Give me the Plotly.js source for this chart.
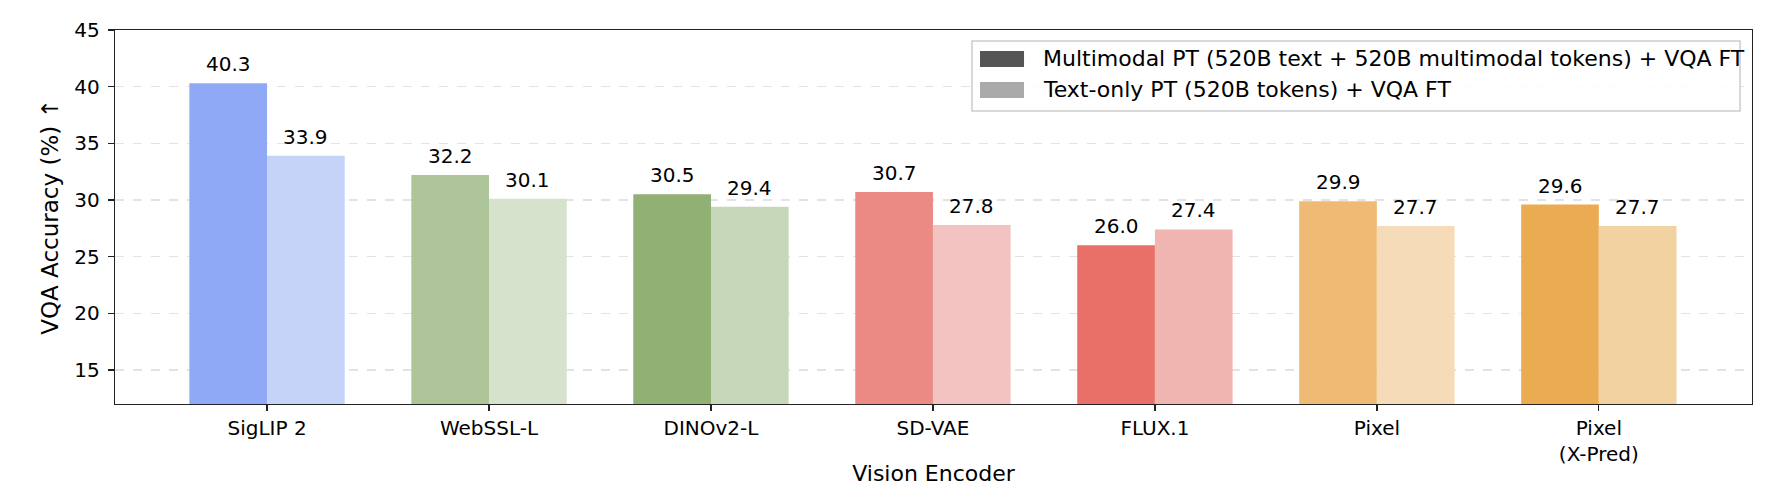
<!DOCTYPE html>
<html>
<head>
<meta charset="utf-8">
<script src="https://cdn.plot.ly/plotly-3.0.1.min.js"></script>
<style>
  html, body { margin: 0; padding: 0; background: #fff; }
  #chart { width: 1788px; height: 504px; }
</style>
</head>
<body>
<div id="chart"></div>
<script>
"use strict";

var encoders = ['SigLIP 2', 'WebSSL-L', 'DINOv2-L', 'SD-VAE', 'FLUX.1', 'Pixel', 'Pixel<br>(X-Pred)'];
var multimodalAcc = [40.3, 32.2, 30.5, 30.7, 26.0, 29.9, 29.6];
var textOnlyAcc = [33.9, 30.1, 29.4, 27.8, 27.4, 27.7, 27.7];
var darkColors = ['#8fa9f6', '#aec59a', '#90b074', '#eb8985', '#e87068', '#efbb74', '#eaab53'];
var lightColors = ['#c6d3f9', '#d6e2cb', '#c7d8ba', '#f3c3c1', '#f0b4b1', '#f5dbb7', '#f3d2a2'];
var legendNames = [
    'Multimodal PT (520B text + 520B multimodal tokens) + VQA FT',
    'Text-only PT (520B tokens) + VQA FT'
];
var legendColors = ['#555555', '#aaaaaa'];
var yTicks = [15, 20, 25, 30, 35, 40, 45];

var FONT = 'DejaVu Sans, sans-serif';
var BAR_W = 0.35;

function barTrace(values, colors, offset) {
    return {
        type: 'bar',
        x: encoders,
        y: values,
        width: BAR_W,
        offset: offset,
        marker: { color: colors, line: { width: 0 } },
        showlegend: false,
        hoverinfo: 'skip'
    };
}

// value labels sit a few pixels above each bar
var annotations = [];
function addValueLabels(values, shift) {
    values.forEach(function (v, i) {
        annotations.push({
            xref: 'x', yref: 'y', x: i + shift, y: v,
            xanchor: 'center', yanchor: 'bottom', yshift: 5,
            showarrow: false, text: v.toFixed(1),
            font: { family: FONT, size: 20, color: '#000' }
        });
    });
}
addValueLabels(multimodalAcc, -BAR_W / 2);
addValueLabels(textOnlyAcc, BAR_W / 2);

// hand-built legend, matplotlib style: wide swatches in a light box
var shapes = [{
    type: 'rect', xref: 'paper', yref: 'paper',
    x0: 0.5235, x1: 0.9927, y0: 0.7834, y1: 0.9706,
    line: { color: '#cccccc', width: 1.5 }, fillcolor: 'rgba(255,255,255,0.85)', layer: 'above'
}];
var rowY = [0.9225, 0.8396];
legendNames.forEach(function (name, i) {
    shapes.push({
        type: 'rect', xref: 'paper', yref: 'paper',
        x0: 0.5284, x1: 0.5553, y0: rowY[i] - 0.0214, y1: rowY[i] + 0.0214,
        line: { width: 0 }, fillcolor: legendColors[i], layer: 'above'
    });
    annotations.push({
        xref: 'paper', yref: 'paper', x: 0.5657, y: rowY[i],
        xanchor: 'left', yanchor: 'middle', showarrow: false,
        text: name, font: { family: FONT, size: 22, color: '#000' }
    });
});

var layout = {
    width: 1788,
    height: 504,
    margin: { l: 115, r: 36, t: 30, b: 100 },
    paper_bgcolor: '#fff',
    plot_bgcolor: '#fff',
    font: { family: FONT, size: 20, color: '#000' },
    barmode: 'overlay',
    xaxis: {
        type: 'category',
        range: [-0.685, 6.69],
        showline: true, linecolor: '#222', linewidth: 1.3, mirror: true,
        ticks: 'outside', ticklen: 6, tickwidth: 1.3, tickcolor: '#222',
        tickfont: { family: FONT, size: 20 },
        showgrid: false, zeroline: false,
        title: { text: 'Vision Encoder', font: { family: FONT, size: 22 }, standoff: 0 }
    },
    yaxis: {
        range: [12, 45],
        tickvals: yTicks,
        showline: true, linecolor: '#222', linewidth: 1.3, mirror: true,
        ticks: 'outside', ticklen: 6, tickwidth: 1.3, tickcolor: '#222',
        ticklabelstandoff: 4,
        tickfont: { family: FONT, size: 20 },
        showgrid: true, gridcolor: '#e3e3e3', gridwidth: 1.3, griddash: 'dash',
        zeroline: false,
        title: { text: 'VQA Accuracy (%) ↑', font: { family: FONT, size: 23 }, standoff: 9 }
    },
    shapes: shapes,
    annotations: annotations
};

Plotly.newPlot('chart', [
    barTrace(multimodalAcc, darkColors, -BAR_W),
    barTrace(textOnlyAcc, lightColors, 0)
], layout, { staticPlot: true });
</script>
</body>
</html>
